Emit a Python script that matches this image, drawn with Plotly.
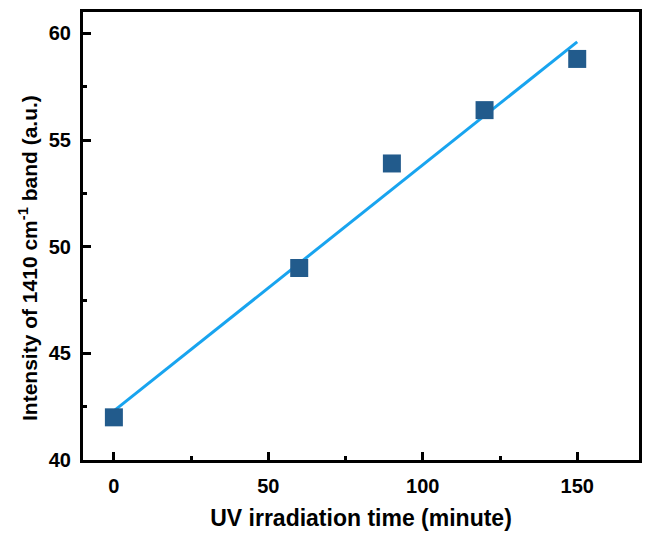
import plotly.graph_objects as go

time_min = [0, 60, 90, 120, 150]
intensity = [42.0, 49.0, 53.9, 56.4, 58.8]
fit_x = [0, 150]
fit_y = [42.3, 59.6]

fig = go.Figure()
fig.add_trace(go.Scatter(x=fit_x, y=fit_y, mode="lines",
                         line=dict(color="#18a4ef", width=3), showlegend=False))
fig.add_trace(go.Scatter(x=time_min, y=intensity, mode="markers",
                         marker=dict(symbol="square", size=18, color="#225b8c",
                                     line=dict(width=0)), showlegend=False))

font = dict(family="Liberation Sans, Arial, sans-serif", color="black")
fig.update_layout(
    width=651, height=536,
    margin=dict(l=83, r=9, t=12, b=73),
    paper_bgcolor="white", plot_bgcolor="white",
    font=font,
)
fig.update_xaxes(range=[-10, 170], tickvals=[0, 50, 100, 150],
                 ticks="inside", ticklen=8, tickwidth=2.5, tickcolor="black",
                 showline=True, linewidth=3, linecolor="black", mirror=True,
                 showgrid=False, zeroline=False, ticklabelstandoff=6,
                 tickfont=dict(size=20, family="Liberation Sans", weight="bold"),
                 minor=dict(ticks="inside", ticklen=4, tickwidth=2.5, tickcolor="black",
                            tickvals=[25, 75, 125], showgrid=False),
                 title=dict(text="UV irradiation time (minute)", standoff=14,
                            font=dict(size=23, family="Liberation Sans", weight="bold")))
fig.update_yaxes(range=[40, 61], tickvals=[40, 45, 50, 55, 60],
                 ticks="inside", ticklen=8, tickwidth=2.5, tickcolor="black",
                 showline=True, linewidth=3, linecolor="black", mirror=True,
                 showgrid=False, zeroline=False, ticklabelstandoff=5,
                 tickfont=dict(size=20, family="Liberation Sans", weight="bold"),
                 minor=dict(ticks="inside", ticklen=4, tickwidth=2.5, tickcolor="black",
                            tickvals=[42.5, 47.5, 52.5, 57.5], showgrid=False))
fig.add_annotation(text="Intensity of 1410 cm<sup>-1</sup> band (a.u.)",
                   xref="paper", yref="paper", x=0, y=0.5, xshift=-55, yshift=-22,
                   xanchor="center", yanchor="middle", textangle=-90,
                   showarrow=False,
                   font=dict(size=21, family="Liberation Sans", weight="bold", color="black"))

fig.write_html("out.html")
